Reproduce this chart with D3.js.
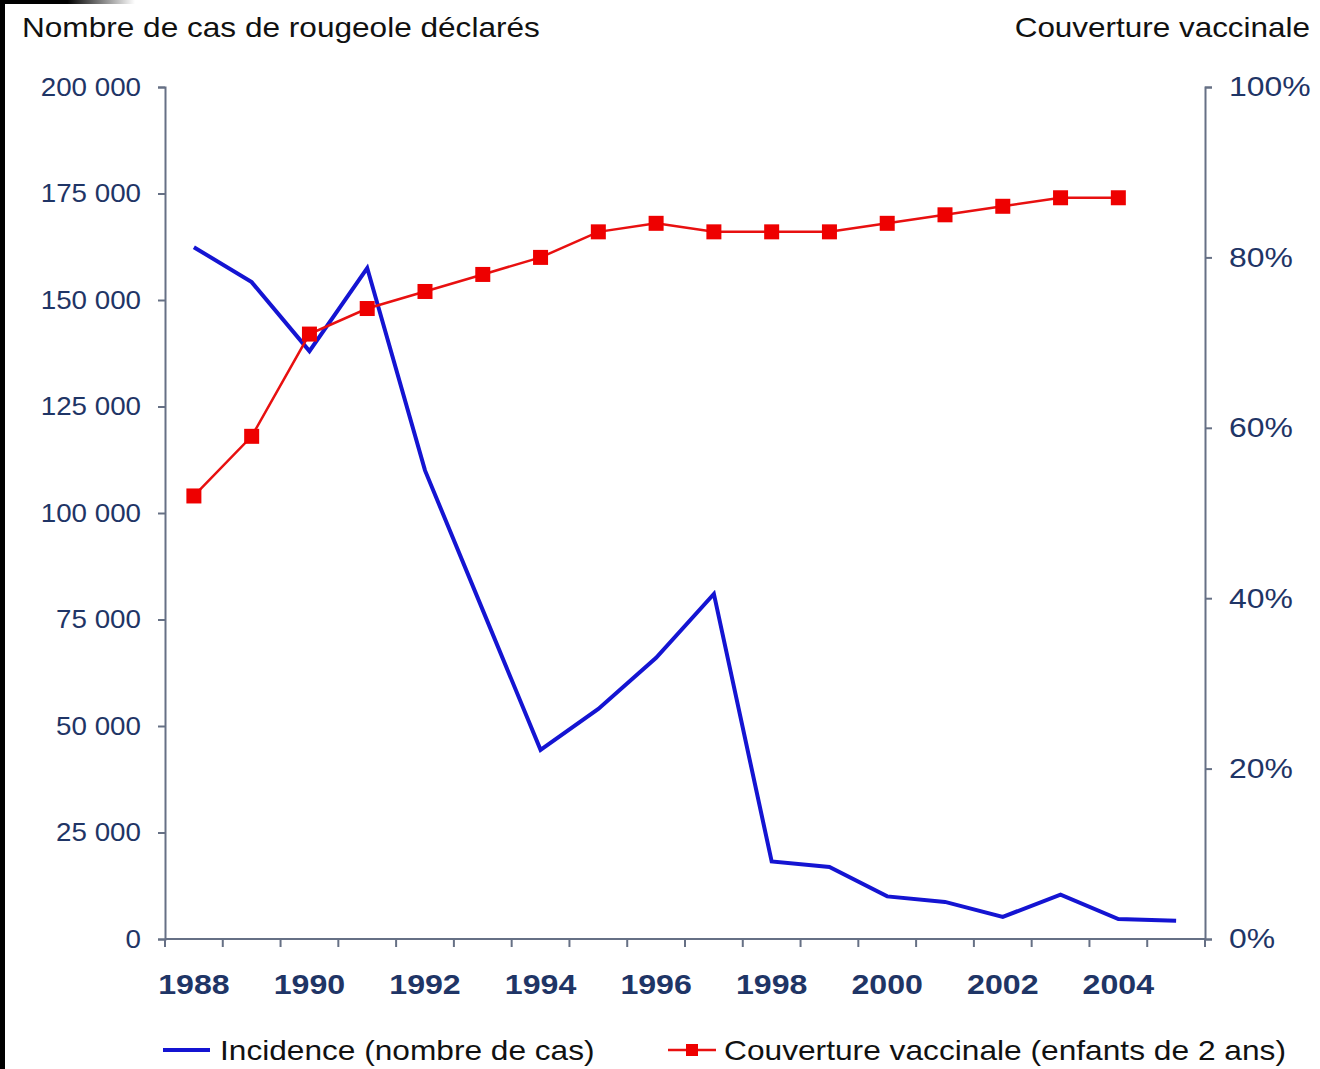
<!DOCTYPE html>
<html>
<head>
<meta charset="utf-8">
<script src="https://cdn.jsdelivr.net/npm/d3@7"></script>
<style>
  html, body { margin: 0; padding: 0; background: #fff; }
  svg { display: block; }
</style>
</head>
<body>
<svg id="chart" width="1320" height="1069"></svg>
<script>
const years = [1988,1989,1990,1991,1992,1993,1994,1995,1996,1997,1998,1999,2000,2001,2002,2003,2004,2005];
const incidence = [162400,154200,138000,157500,110000,77200,44400,54000,66000,81000,18200,16900,10000,8700,5200,10400,4700,4300];
const couvertureYears = [1988,1989,1990,1991,1992,1993,1994,1995,1996,1997,1998,1999,2000,2001,2002,2003,2004];
const couverture = [52,59,71,74,76,78,80,83,84,83,83,83,84,85,86,87,87];
const leftTicks = [0,25000,50000,75000,100000,125000,150000,175000,200000];
const rightTicks = [0,20,40,60,80,100];
const xLabelYears = [1988,1990,1992,1994,1996,1998,2000,2002,2004];

(function () {
const svg = d3.select("#chart");
const font = "'Liberation Sans', Arial, sans-serif";
const axisColor = "#667085";
const labelColor = "#1f3566";
const blue = "#1414d2";
const red = "#e81010";

const mLeft = 165, mRight = 1205, mTop = 87, mBottom = 939;

const x = d3.scaleBand().domain(years).range([mLeft, mRight]).padding(0);
const yL = d3.scaleLinear().domain([0, 200000]).range([mBottom, mTop]);
const yR = d3.scaleLinear().domain([0, 100]).range([mBottom, mTop]);
const cx = d => x(d) + x.bandwidth() / 2;

function stretchText(sel, sx) {
  sel.each(function () {
    const t = d3.select(this);
    const tx = +t.attr("x") || 0, ty = +t.attr("y") || 0;
    t.attr("x", 0).attr("y", 0).attr("transform", `translate(${tx},${ty}) scale(${sx},1)`);
  });
}

// black frame artifacts
svg.append("rect").attr("x", 0).attr("y", 0).attr("width", 5).attr("height", 1069).attr("fill", "#000");
const grad = svg.append("defs").append("linearGradient").attr("id", "tg").attr("x1", "0").attr("x2", "1");
grad.append("stop").attr("offset", "0.5").attr("stop-color", "#000");
grad.append("stop").attr("offset", "1").attr("stop-color", "#fff");
svg.append("rect").attr("x", 0).attr("y", 0).attr("width", 135).attr("height", 4).attr("fill", "url(#tg)");

// titles
const t1 = svg.append("text").attr("x", 22).attr("y", 37).attr("font-family", font).attr("font-size", 27)
  .attr("fill", "#111").text("Nombre de cas de rougeole déclarés");
const t2 = svg.append("text").attr("x", 1310).attr("y", 37).attr("text-anchor", "end").attr("font-family", font)
  .attr("font-size", 27).attr("fill", "#111").text("Couverture vaccinale");
stretchText(t1, 1.17);
stretchText(t2, 1.165);

// left axis
const gL = svg.append("g").attr("transform", `translate(${mLeft},0)`)
  .call(d3.axisLeft(yL).tickValues(leftTicks).tickSize(7).tickPadding(17)
    .tickFormat(d => d3.format(",")(d).replace(/,/g, " ")));
gL.select(".domain").attr("stroke", axisColor).attr("stroke-width", 2);
gL.selectAll(".tick line").attr("stroke", axisColor).attr("stroke-width", 2);
gL.selectAll(".tick text").attr("font-family", font).attr("font-size", 25).attr("fill", labelColor);
stretchText(gL.selectAll(".tick text"), 1.11);

// right axis
const gR = svg.append("g").attr("transform", `translate(${mRight},0)`)
  .call(d3.axisRight(yR).tickValues(rightTicks).tickSize(7).tickPadding(17).tickFormat(d => d + "%"));
gR.select(".domain").attr("stroke", axisColor).attr("stroke-width", 2);
gR.selectAll(".tick line").attr("stroke", axisColor).attr("stroke-width", 2);
gR.selectAll(".tick text").attr("font-family", font).attr("font-size", 28).attr("fill", labelColor);
stretchText(gR.selectAll(".tick text"), 1.14);

// x axis: ticks at band boundaries
const gX = svg.append("g").attr("transform", `translate(0,${mBottom})`);
gX.append("line").attr("x1", mLeft).attr("x2", mRight).attr("stroke", axisColor).attr("stroke-width", 2);
const boundaries = years.map(d => x(d)).concat([x(years[years.length - 1]) + x.bandwidth()]);
gX.selectAll("line.t").data(boundaries).join("line").attr("class", "t")
  .attr("x1", d => d).attr("x2", d => d).attr("y1", 0).attr("y2", 8)
  .attr("stroke", axisColor).attr("stroke-width", 2);
const xl = gX.selectAll("text").data(xLabelYears).join("text")
  .attr("x", d => cx(d)).attr("y", 55).attr("text-anchor", "middle")
  .attr("font-family", font).attr("font-size", 27).attr("font-weight", "bold")
  .attr("fill", labelColor).text(d => d);
stretchText(xl, 1.19);

// incidence line
const lineL = d3.line().x((d, i) => cx(years[i])).y(d => yL(d));
svg.append("path").datum(incidence).attr("d", lineL).attr("fill", "none")
  .attr("stroke", blue).attr("stroke-width", 4).attr("stroke-linejoin", "miter");

// coverage line
const lineR = d3.line().x((d, i) => cx(couvertureYears[i])).y(d => yR(d));
svg.append("path").datum(couverture).attr("d", lineR).attr("fill", "none")
  .attr("stroke", red).attr("stroke-width", 2.5);
const ms = 15;
svg.selectAll("rect.m").data(couverture).join("rect").attr("class", "m")
  .attr("x", (d, i) => cx(couvertureYears[i]) - ms / 2).attr("y", d => yR(d) - ms / 2)
  .attr("width", ms).attr("height", ms).attr("fill", "#ee0000");

// legend
const ly = 1050;
svg.append("line").attr("x1", 163).attr("x2", 210).attr("y1", ly).attr("y2", ly)
  .attr("stroke", blue).attr("stroke-width", 4);
const l1 = svg.append("text").attr("x", 220).attr("y", ly + 10).attr("font-family", font).attr("font-size", 27)
  .attr("fill", "#111").text("Incidence (nombre de cas)");
svg.append("line").attr("x1", 668).attr("x2", 716).attr("y1", ly).attr("y2", ly)
  .attr("stroke", red).attr("stroke-width", 2.5);
svg.append("rect").attr("x", 692 - 6).attr("y", ly - 6).attr("width", 12).attr("height", 12).attr("fill", "#ee0000");
const l2 = svg.append("text").attr("x", 724).attr("y", ly + 10).attr("font-family", font).attr("font-size", 27)
  .attr("fill", "#111").text("Couverture vaccinale (enfants de 2 ans)");
stretchText(l1, 1.172);
stretchText(l2, 1.174);
})();
</script>
</body>
</html>
